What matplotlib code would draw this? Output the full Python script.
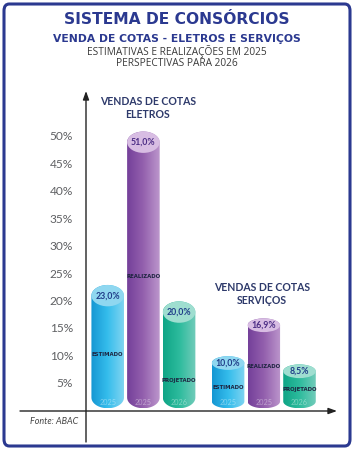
import numpy as np
import matplotlib
matplotlib.use("Agg")
import matplotlib.pyplot as plt
from matplotlib.patches import Ellipse, FancyBboxPatch, PathPatch
from matplotlib.path import Path
from matplotlib.colors import LinearSegmentedColormap

# ---------------- data ----------------
groups = ["VENDAS DE COTAS\nELETROS", "VENDAS DE COTAS\nSERVIÇOS"]
bar_kinds = ["ESTIMADO", "REALIZADO", "PROJETADO"]
bar_years = ["2025", "2025", "2026"]
eletros_values = [23.0, 51.0, 20.0]
servicos_values = [10.0, 16.9, 8.5]
value_labels_eletros = ["23,0%", "51,0%", "20,0%"]
value_labels_servicos = ["10,0%", "16,9%", "8,5%"]
y_ticks = [5, 10, 15, 20, 25, 30, 35, 40, 45, 50]
y_tick_labels = ["5%", "10%", "15%", "20%", "25%", "30%", "35%", "40%", "45%", "50%"]

# ---------------- styles / layout ----------------
NAVY = "#2b3990"
body_colors = [("#1597d3", "#35bdec", "#7fd4f1"),
               ("#74409a", "#9461ae", "#bc96cc"),
               ("#0fa586", "#2dbb9d", "#72ccba")]
top_colors = ["#8fd7f0", "#d8bde3", "#9fded0"]
value_colors = ["#1f3c88", "#4b2c84", "#1f3c88"]
inner_label_frac = [[0.45, 0.48, 0.28], [0.42, 0.48, 0.47]]
group_starts = [0.62, 4.06]
spacing = 1.02
bar_w = 0.93
ell_h = [3.9, 2.5]

fig = plt.figure(figsize=(3.54, 4.5), dpi=100)
fig.patch.set_facecolor("white")

# frame
frame = FancyBboxPatch((4 / 354, 4 / 450), 346 / 354, 442 / 450,
                       boxstyle="round,pad=0,rounding_size=0.015",
                       transform=fig.transFigure, facecolor="none",
                       edgecolor=NAVY, linewidth=2.2, zorder=-10)
fig.patches.append(frame)

# titles
fig.text(0.5, 1 - 20 / 450, "SISTEMA DE CONSÓRCIOS", ha="center", va="center",
         fontsize=11.2, fontweight="bold", color=NAVY, family="DejaVu Sans")
fig.text(0.5, 1 - 38.5 / 450, "VENDA DE COTAS - ELETROS E SERVIÇOS", ha="center",
         va="center", fontsize=7.75, fontweight="bold", color=NAVY, family="DejaVu Sans")
fig.text(0.5, 1 - 52 / 450, "ESTIMATIVAS E REALIZAÇÕES EM 2025", ha="center",
         va="center", fontsize=7.3, color="#3a3a3a", family="Open Sans")
fig.text(0.5, 1 - 63.5 / 450, "PERSPECTIVAS PARA 2026", ha="center",
         va="center", fontsize=7.3, color="#3a3a3a", family="Open Sans")

# axes: px -> data mapping
ax = fig.add_axes([20 / 354, 1 - 442 / 450, 320 / 354, 354 / 450])
ax.axis("off")

# axis lines with arrows
ax.annotate("", xy=(0, (411 - 91) / 5.48), xytext=(0, (411 - 442) / 5.48),
            arrowprops=dict(arrowstyle="-|>,head_length=0.5,head_width=0.18",
                            color="#222222", lw=1.0, shrinkA=0, shrinkB=0))
ax.annotate("", xy=((337 - 86) / 35, 0), xytext=((20 - 86) / 35, 0),
            arrowprops=dict(arrowstyle="-|>,head_length=0.5,head_width=0.18",
                            color="#222222", lw=1.0, shrinkA=0, shrinkB=0))

for t, lab in zip(y_ticks, y_tick_labels):
    ax.text(-0.37, t, lab, ha="right", va="center", fontsize=8.6,
            color="#5f6063", family="Lato")

ax.text(-0.22, -2.0, "Fonte: ABAC", ha="right", va="center", fontsize=6.5,
        style="italic", color="#444444", family="Lato")


def cylinder(cx, v, eh, k, value_label, kind, year, frac):
    w = bar_w
    base = 0.5
    yb = base + eh / 2
    yt = v - eh / 2
    th1 = np.linspace(np.pi, 2 * np.pi, 40)
    th2 = np.linspace(0, np.pi, 40)
    xs = np.concatenate([cx + w / 2 * np.cos(th1), cx + w / 2 * np.cos(th2)])
    ys = np.concatenate([yb + eh / 2 * np.sin(th1), yt + eh / 2 * np.sin(th2)])
    verts = np.column_stack([xs, ys])
    verts = np.vstack([verts, verts[:1]])
    codes = [Path.MOVETO] + [Path.LINETO] * (len(verts) - 2) + [Path.CLOSEPOLY]
    path = Path(verts, codes)
    patch = PathPatch(path, facecolor="none", edgecolor="none")
    ax.add_patch(patch)
    cmap = LinearSegmentedColormap.from_list("g", body_colors[k])
    grad = np.linspace(0, 1, 64).reshape(1, -1)
    im = ax.imshow(grad, cmap=cmap, extent=[cx - w / 2, cx + w / 2, base, v],
                   aspect="auto", origin="lower", zorder=2, interpolation="bicubic")
    im.set_clip_path(patch)
    top = Ellipse((cx, yt), w, eh, facecolor=top_colors[k], edgecolor="none", zorder=3)
    ax.add_patch(top)
    ax.text(cx, yt, value_label, ha="center", va="center", fontsize=6.3,
            fontweight="bold", color=value_colors[k], family="Lato", zorder=4)
    ax.text(cx, v * frac, kind, ha="center", va="center", fontsize=3.9,
            fontweight="bold", color="#1d2440", family="DejaVu Sans Condensed", zorder=4)
    ax.text(cx, 1.5, year, ha="center", va="center", fontsize=5.2,
            color=(1, 1, 1, 0.4), family="Lato", zorder=4)


all_vals = [eletros_values, servicos_values]
all_labs = [value_labels_eletros, value_labels_servicos]
for g in range(2):
    for k in range(3):
        cx = group_starts[g] + k * spacing
        cylinder(cx, all_vals[g][k], ell_h[g], k, all_labs[g][k], bar_kinds[k],
                 bar_years[k], inner_label_frac[g][k])

# group titles
ax.text((148 - 86) / 35, (411 - 108) / 5.48, groups[0], ha="center", va="center",
        fontsize=7.6, fontweight="bold", color="#2e3a6b", family="Lato",
        linespacing=1.2)
ax.text((262 - 86) / 35, (411 - 294) / 5.48, groups[1], ha="center", va="center",
        fontsize=7.6, fontweight="bold", color="#2e3a6b", family="Lato",
        linespacing=1.2)

ax.set_xlim((20 - 86) / 35, (340 - 86) / 35)
ax.set_ylim((411 - 442) / 5.48, (411 - 88) / 5.48)

fig.savefig("out.png", dpi=100)
